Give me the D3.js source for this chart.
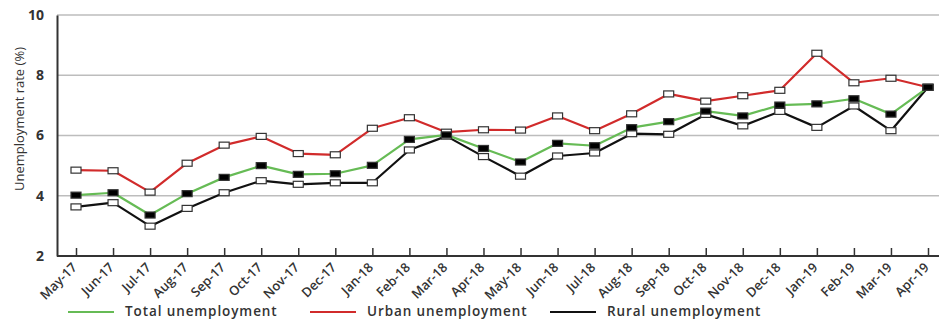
<!DOCTYPE html>
<html><head><meta charset="utf-8">
<script src="https://cdn.jsdelivr.net/npm/d3@7"></script>
<style>
html,body{margin:0;padding:0;background:#fff;}
svg{display:block;font-family:"Open Sans","DejaVu Sans",sans-serif;}
</style></head>
<body><svg id="c" width="939" height="320"></svg>
<script>
const months = ["May-17","Jun-17","Jul-17","Aug-17","Sep-17","Oct-17","Nov-17","Dec-17","Jan-18","Feb-18","Mar-18","Apr-18","May-18","Jun-18","Jul-18","Aug-18","Sep-18","Oct-18","Nov-18","Dec-18","Jan-19","Feb-19","Mar-19","Apr-19"];
const total = [4.02,4.10,3.36,4.07,4.61,5.00,4.71,4.73,5.01,5.87,6.02,5.57,5.12,5.74,5.66,6.26,6.46,6.81,6.65,7.01,7.05,7.22,6.71,7.60];
const urban = [4.85,4.83,4.12,5.08,5.68,5.97,5.40,5.36,6.24,6.59,6.11,6.19,6.18,6.65,6.16,6.72,7.38,7.14,7.32,7.50,8.73,7.75,7.90,7.60];
const rural = [3.63,3.77,2.99,3.58,4.10,4.50,4.38,4.43,4.43,5.52,5.98,5.30,4.65,5.32,5.42,6.06,6.04,6.70,6.32,6.80,6.27,6.98,6.16,7.60];
const yTicks = [2,4,6,8,10];
const legendLabels = ["Total unemployment","Urban unemployment","Rural unemployment"];

const svg = d3.select("#c");
const L = 57, R = 939, T = 15, B = 256;
const x = d3.scalePoint().domain(months).range([76, 928]);
const y = d3.scaleLinear().domain([2,10]).range([B, T]);

// grid
svg.append("g").selectAll("line").data(yTicks.filter(d=>d>2)).join("line")
  .attr("x1", L).attr("x2", R).attr("y1", d=>y(d)).attr("y2", d=>y(d))
  .attr("stroke", "#bdbdbd").attr("stroke-width", 1.5);

// y axis
const yAxis = svg.append("g").attr("transform", `translate(${L},0)`)
  .call(d3.axisLeft(y).tickValues(yTicks).tickSize(0).tickPadding(13));
yAxis.select(".domain").attr("stroke", "#333").attr("stroke-width", 2);
yAxis.selectAll("text").attr("font-size", 14).attr("font-weight", "bold").attr("fill", "#333")
  .attr("font-family", "'Open Sans','DejaVu Sans',sans-serif");

// x axis
const xAxis = svg.append("g").attr("transform", `translate(0,${B})`)
  .call(d3.axisBottom(x).tickSize(-8).tickPadding(6));
xAxis.select(".domain").attr("d", `M${L},0H${R}`).attr("stroke", "#333").attr("stroke-width", 2);
xAxis.selectAll(".tick line").attr("stroke", "#333").attr("stroke-width", 1.5);
xAxis.selectAll("text")
  .attr("x", 0).attr("y", 0)
  .attr("font-size", 13).attr("font-weight", 600).attr("fill", "#333")
  .attr("font-family", "'Open Sans','DejaVu Sans',sans-serif")
  .attr("text-anchor", "end").attr("dy", "0.35em")
  .attr("transform", "translate(-2,9) rotate(-45)");

// y label
svg.append("text").attr("transform", `translate(19,119) rotate(-90)`)
  .attr("text-anchor", "middle").attr("dy", "0.35em")
  .attr("font-size", 13).attr("fill", "#333").text("Unemployment rate (%)");

const line = arr => d3.line().x((d,i)=>x(months[i])).y(d=>y(d))(arr);
const series = [
  {vals: urban, color: "#d12b2b", fill: "#fff"},
  {vals: rural, color: "#111", fill: "#fff"},
  {vals: total, color: "#66bb55", fill: "#000"}
];
series.forEach(s => {
  svg.append("path").attr("d", line(s.vals)).attr("fill", "none")
    .attr("stroke", s.color).attr("stroke-width", 2.2).attr("stroke-linejoin", "round");
});
series.forEach(s => {
  svg.append("g").selectAll("rect").data(s.vals).join("rect")
    .attr("x", (d,i)=>x(months[i]) - 5).attr("y", d=>y(d) - 3)
    .attr("width", 10).attr("height", 6)
    .attr("fill", s.fill).attr("stroke", "#333").attr("stroke-width", 1.2);
});

// legend
const legColors = ["#66bb55", "#d12b2b", "#111"];
const legX = [68, 310, 550];
const lg = svg.append("g");
legendLabels.forEach((t, i) => {
  lg.append("line").attr("x1", legX[i]).attr("x2", legX[i] + 46).attr("y1", 312).attr("y2", 312)
    .attr("stroke", legColors[i]).attr("stroke-width", 2);
  lg.append("text").attr("x", legX[i] + 57).attr("y", 311.5).attr("dy", "0.35em")
    .attr("font-size", 13.5).attr("font-weight", 600).attr("letter-spacing", "0.9px")
    .attr("fill", "#333").text(t);
});
</script></body></html>
